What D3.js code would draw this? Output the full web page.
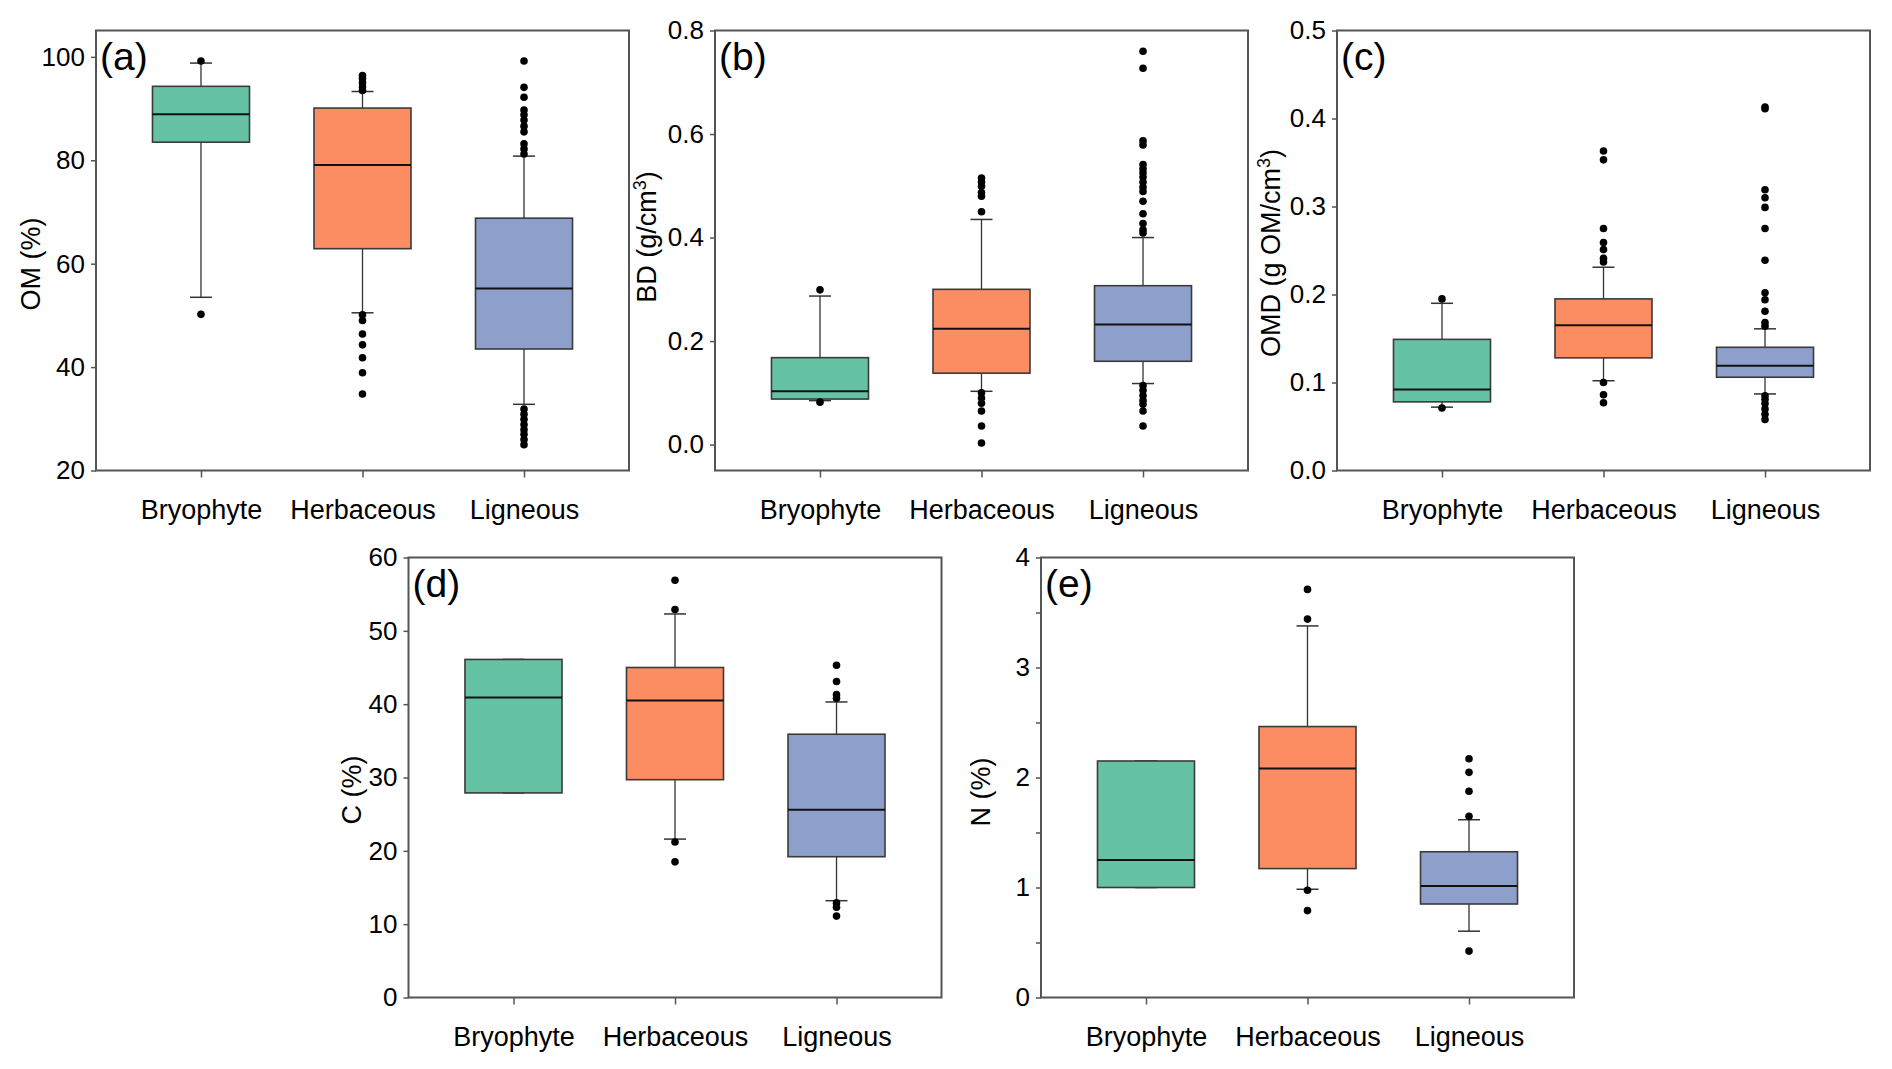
<!DOCTYPE html>
<html>
<head>
<meta charset="utf-8">
<script src="https://cdn.jsdelivr.net/npm/d3@7"></script>
<style>
  body { margin: 0; background: #fff; }
  svg { display: block; font-family: "Liberation Sans", Arial, Helvetica, sans-serif; }
</style>
</head>
<body>
<div id="chart"></div>
<script>
// categories shared by every panel
const categories = ["Bryophyte", "Herbaceous", "Ligneous"];
const colors = ["#66c2a5", "#fc8d62", "#8da0cb"];

// box stats per category: [lower whisker, Q1, median, Q3, upper whisker]
const omStats = [[53.5, 83.5, 88.9, 94.3, 98.8], [50.5, 62.9, 79.1, 90.1, 93.3], [32.8, 43.5, 55.2, 68.8, 80.8]];
const omOutliers = [
  [99.2, 50.2],
  [96.4, 95.8, 95.0, 94.2, 93.5, 50.1, 49.0, 46.4, 44.3, 41.8, 38.9, 34.8],
  [99.2, 94.1, 92.2, 89.7, 88.8, 87.8, 86.6, 85.5, 83.2, 82.2, 81.2, 31.9, 30.9, 29.9, 28.9, 27.9, 27.0, 26.0, 25.0]
];

const bdStats = [[0.085, 0.088, 0.103, 0.168, 0.287], [0.103, 0.138, 0.224, 0.300, 0.435], [0.118, 0.161, 0.232, 0.307, 0.400]];
const bdOutliers = [
  [0.299, 0.082],
  [0.515, 0.507, 0.499, 0.487, 0.480, 0.450, 0.100, 0.090, 0.080, 0.065, 0.036, 0.003],
  [0.760, 0.727, 0.587, 0.579, 0.541, 0.533, 0.525, 0.517, 0.507, 0.497, 0.489, 0.470, 0.446, 0.427, 0.415, 0.409,
   0.114, 0.105, 0.095, 0.085, 0.078, 0.065, 0.036]
];

const omdStats = [[0.072, 0.078, 0.092, 0.149, 0.190], [0.102, 0.128, 0.165, 0.195, 0.231], [0.087, 0.106, 0.119, 0.140, 0.161]];
const omdOutliers = [
  [0.195, 0.071],
  [0.363, 0.353, 0.275, 0.259, 0.251, 0.241, 0.237, 0.100, 0.086, 0.077],
  [0.413, 0.411, 0.319, 0.310, 0.299, 0.275, 0.239, 0.202, 0.194, 0.181, 0.168, 0.164, 0.085, 0.081, 0.076, 0.070, 0.064, 0.058]
];

const cStats = [[27.9, 27.9, 40.9, 46.1, 46.1], [21.6, 29.7, 40.5, 45.0, 52.3], [13.2, 19.2, 25.6, 35.9, 40.3]];
const cOutliers = [
  [],
  [56.9, 52.9, 21.2, 18.5],
  [45.3, 43.1, 41.3, 40.8, 12.9, 12.3, 11.1]
];

const nStats = [[1.0, 1.0, 1.25, 2.15, 2.15], [0.984, 1.172, 2.081, 2.463, 3.378], [0.603, 0.85, 1.013, 1.325, 1.616]];
const nOutliers = [
  [],
  [3.71, 3.44, 0.975, 0.79],
  [2.17, 2.047, 1.875, 1.647, 0.422]
];

// y tick labels
const omTicks = [20, 40, 60, 80, 100];
const bdTicks = [0, 0.2, 0.4, 0.6, 0.8];
const omdTicks = [0, 0.1, 0.2, 0.3, 0.4, 0.5];
const cTicks = [0, 10, 20, 30, 40, 50, 60];
const nTicks = [0, 0.5, 1, 1.5, 2, 2.5, 3, 3.5, 4];

const width = 1892, height = 1069;
const panelW = 533, panelH = 440;

const svg = d3.select("#chart").append("svg")
  .attr("width", width)
  .attr("height", height);

// panels: position, domain, labels
const panels = [
  { id: "(a)", x: 96, y: 30.5, domain: [20, 105.1], ticks: omTicks, fmt: d3.format("d"),
    title: ["OM (%)"], titleX: 40, titleY: 264, stats: omStats, outliers: omOutliers },
  { id: "(b)", x: 715, y: 30.5, domain: [-0.05, 0.8], ticks: bdTicks, fmt: d3.format(".1f"),
    title: ["BD (g/cm", "3", ")"], titleX: 656, titleY: 237, stats: bdStats, outliers: bdOutliers },
  { id: "(c)", x: 1337, y: 30.5, domain: [0, 0.5], ticks: omdTicks, fmt: d3.format(".1f"),
    title: ["OMD (g OM/cm", "3", ")"], titleX: 1280, titleY: 253, stats: omdStats, outliers: omdOutliers },
  { id: "(d)", x: 408.5, y: 557.5, domain: [0, 60], ticks: cTicks, fmt: d3.format("d"),
    title: ["C (%)"], titleX: 361, titleY: 790, stats: cStats, outliers: cOutliers },
  { id: "(e)", x: 1041, y: 557.5, domain: [0, 4], ticks: nTicks, fmt: d => Number.isInteger(d) ? d : "",
    title: ["N (%)"], titleX: 990, titleY: 792, stats: nStats, outliers: nOutliers }
];

panels.forEach(p => drawPanel(p));

function drawPanel(p) {
  const g = svg.append("g").attr("transform", `translate(${p.x},${p.y})`);

  const x = d3.scalePoint().domain(categories).range([0, panelW]).padding(0.65);
  const y = d3.scaleLinear().domain(p.domain).range([panelH, 0]);
  const boxW = 97, capW = 22;

  // y axis
  const yAxis = g.append("g")
    .call(d3.axisLeft(y).tickValues(p.ticks).tickSize(5).tickPadding(6).tickFormat(p.fmt));
  yAxis.select(".domain").remove();
  yAxis.selectAll("line").attr("stroke", "#555").attr("stroke-width", 1.5);
  yAxis.selectAll("text").attr("font-size", 26).attr("fill", "#000").attr("font-family", null);

  // x axis
  const xAxis = g.append("g")
    .attr("transform", `translate(0,${panelH})`)
    .call(d3.axisBottom(x).tickSize(7));
  xAxis.select(".domain").remove();
  xAxis.selectAll("line").attr("stroke", "#555").attr("stroke-width", 1.5);
  xAxis.selectAll("text")
    .attr("y", 48).attr("dy", null)
    .attr("font-size", 27).attr("fill", "#000").attr("font-family", null);

  // boxes
  categories.forEach((cat, i) => {
    const [lo, q1, med, q3, hi] = p.stats[i];
    const cx = x(cat);

    // whiskers
    g.append("line")
      .attr("x1", cx).attr("x2", cx)
      .attr("y1", y(hi)).attr("y2", y(lo))
      .attr("stroke", "#333").attr("stroke-width", 1.3);
    [lo, hi].forEach(v => {
      g.append("line")
        .attr("x1", cx - capW / 2).attr("x2", cx + capW / 2)
        .attr("y1", y(v)).attr("y2", y(v))
        .attr("stroke", "#333").attr("stroke-width", 1.5);
    });

    g.append("rect")
      .attr("x", cx - boxW / 2)
      .attr("y", y(q3))
      .attr("width", boxW)
      .attr("height", y(q1) - y(q3))
      .attr("fill", colors[i])
      .attr("stroke", "#3a3a3a")
      .attr("stroke-width", 1.6);

    g.append("line")
      .attr("x1", cx - boxW / 2).attr("x2", cx + boxW / 2)
      .attr("y1", y(med)).attr("y2", y(med))
      .attr("stroke", "#111").attr("stroke-width", 2);

    g.selectAll(null)
      .data(p.outliers[i])
      .join("circle")
      .attr("cx", cx)
      .attr("cy", d => y(d))
      .attr("r", 3.8)
      .attr("fill", "#000");
  });

  // frame
  g.append("rect")
    .attr("width", panelW).attr("height", panelH)
    .attr("fill", "none")
    .attr("stroke", "#555")
    .attr("stroke-width", 2);

  // panel letter
  g.append("text")
    .attr("x", 4).attr("y", 39)
    .attr("font-size", 39)
    .text(p.id);

  // y axis title, with superscript where needed
  const t = svg.append("text")
    .attr("transform", `translate(${p.titleX},${p.titleY}) rotate(-90)`)
    .attr("text-anchor", "middle")
    .attr("font-size", 27);
  t.append("tspan").text(p.title[0]);
  if (p.title.length > 1) {
    t.append("tspan").attr("dy", -10).attr("font-size", 18).text(p.title[1]);
    t.append("tspan").attr("dy", 10).text(p.title[2]);
  }
}
</script>
</body>
</html>
